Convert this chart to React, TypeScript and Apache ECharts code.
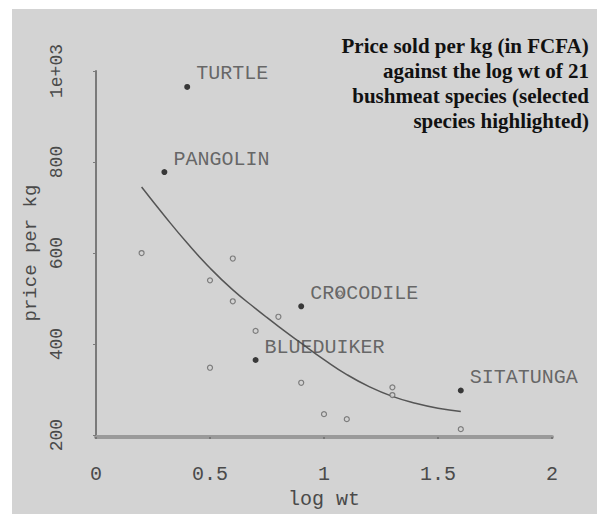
import React, { useEffect, useRef } from "react";
import * as echarts from "echarts";

// Highlighted species (filled points with labels)
const highlightNames = ["TURTLE", "PANGOLIN", "CROCODILE", "BLUEDUIKER", "SITATUNGA"];
const highlightX = [0.4, 0.3, 0.9, 0.7, 1.6];
const highlightY = [965, 778, 483, 365, 298];

// Other species (open points)
const otherX = [0.2, 0.5, 0.6, 0.6, 0.7, 0.8, 0.5, 0.9, 1.0, 1.1, 1.3, 1.3, 1.6, 1.07];
const otherY = [600, 540, 588, 494, 429, 460, 348, 315, 246, 235, 305, 288, 213, 511];

// Smoothed trend curve
const curveX = [0.2, 0.3, 0.4, 0.5, 0.6, 0.7, 0.8, 0.9, 1.0, 1.1, 1.2, 1.3, 1.4, 1.5, 1.6];
const curveY = [745, 682, 622, 567, 519, 478, 439, 402, 366, 333, 306, 285, 270, 259, 252];

// Axis ticks
const yTickValues = [200, 400, 600, 800, 1000];
const yTickLabels = ["200", "400", "600", "800", "1e+03"];

const titleLines = [
  "Price sold per kg (in FCFA)",
  "against the log wt of 21",
  "bushmeat species (selected",
  "species highlighted)",
];

const MONO = "'Liberation Mono', 'DejaVu Sans Mono', monospace";

export default function App() {
  const ref = useRef<HTMLDivElement>(null);

  useEffect(() => {
    if (!ref.current) return;
    const chart = echarts.init(ref.current, null, { renderer: "svg" });
    chart.setOption({
      animation: false,
      backgroundColor: "#d3d3d3",
      grid: { left: 84, right: 45, top: 62, bottom: 76 },
      xAxis: {
        type: "value",
        min: 0,
        max: 2,
        interval: 0.5,
        offset: 2,
        name: "log wt",
        nameLocation: "middle",
        nameGap: 48,
        nameTextStyle: { fontFamily: MONO, fontSize: 20, color: "#4a4a4a" },
        axisLine: { show: true, lineStyle: { color: "#9a9a9a", width: 4 } },
        axisTick: { show: true, length: 2, lineStyle: { color: "#777", width: 2 } },
        axisLabel: { margin: 27, fontFamily: MONO, fontSize: 20, color: "#4a4a4a" },
        splitLine: { show: false },
      },
      yAxis: {
        type: "value",
        min: 200,
        max: 1000,
        interval: 200,
        name: "price per kg",
        nameLocation: "middle",
        nameGap: 45,
        nameTextStyle: { fontFamily: MONO, fontSize: 19, color: "#4a4a4a" },
        axisLine: { show: true, lineStyle: { color: "#7a7a7a", width: 2 } },
        axisTick: { show: true, length: 3, lineStyle: { color: "#7a7a7a", width: 1 } },
        axisLabel: {
          rotate: 90,
          margin: 30,
          fontFamily: MONO,
          fontSize: 18,
          color: "#4a4a4a",
          formatter: (v: number) => {
            const i = yTickValues.indexOf(v);
            return i >= 0 ? yTickLabels[i] : String(v);
          },
        },
        splitLine: { show: false },
      },
      graphic: titleLines.map((line, i) => ({
        type: "text",
        right: 8,
        top: 26 + i * 25,
        style: {
          text: line,
          font: "bold 21px 'Liberation Serif', 'Times New Roman', serif",
          fill: "#111",
        },
      })),
      series: [
        {
          type: "line",
          data: curveX.map((x, i) => [x, curveY[i]]),
          smooth: 0.5,
          showSymbol: false,
          symbol: "none",
          lineStyle: { color: "#555", width: 1.5 },
          silent: true,
          z: 2,
        },
        {
          type: "scatter",
          data: otherX.map((x, i) => [x, otherY[i]]),
          symbol: "circle",
          symbolSize: 5,
          itemStyle: { color: "#d3d3d3", borderColor: "#666", borderWidth: 1.2 },
          z: 3,
        },
        {
          type: "scatter",
          data: highlightX.map((x, i) => ({ value: [x, highlightY[i]], name: highlightNames[i] })),
          symbol: "circle",
          symbolSize: 6,
          itemStyle: { color: "#111" },
          label: {
            show: true,
            position: "right",
            distance: 6,
            offset: [0, -13],
            formatter: (p: any) => p.name,
            fontFamily: MONO,
            fontSize: 20,
            color: "#4a4a4a",
          },
          z: 4,
        },
      ],
    });
    return () => chart.dispose();
  }, []);

  return (
    <div
      ref={ref}
      style={{ position: "fixed", left: 12, top: 9, width: 585, height: 505 }}
    />
  );
}
